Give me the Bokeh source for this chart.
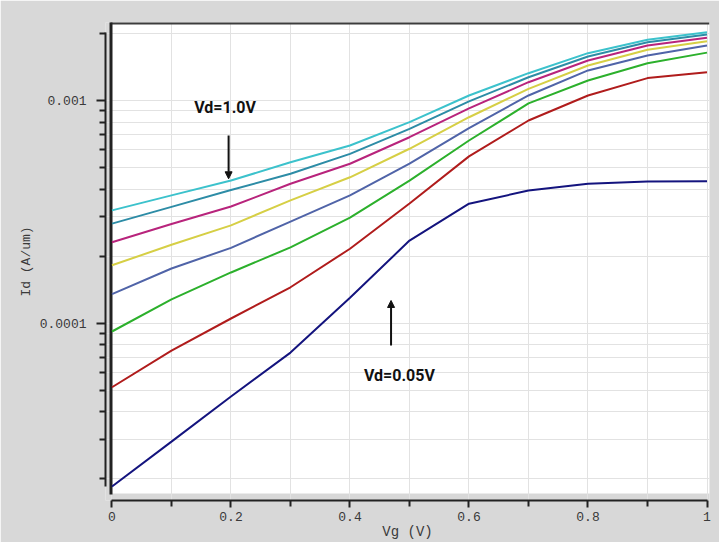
from bokeh.plotting import figure
from bokeh.models import (Range1d, FixedTicker, CustomJSTickFormatter, BoxAnnotation,
                          Label, Arrow, NormalHead, Title)
from bokeh.embed import file_html
from bokeh.resources import INLINE

# ---------------- data ----------------
vg = [0.0, 0.1, 0.2, 0.3, 0.4, 0.5, 0.6, 0.7, 0.8, 0.9, 1.0]

id_navy = [1.85e-5, 2.94e-5, 4.69e-5, 7.38e-5, 1.30e-4, 2.35e-4, 3.44e-4, 3.94e-4, 4.23e-4, 4.33e-4, 4.34e-4]
id_red = [5.16e-5, 7.54e-5, 1.05e-4, 1.45e-4, 2.16e-4, 3.45e-4, 5.61e-4, 8.13e-4, 1.053e-3, 1.26e-3, 1.34e-3]
id_green = [9.18e-5, 1.28e-4, 1.69e-4, 2.19e-4, 2.98e-4, 4.37e-4, 6.61e-4, 9.70e-4, 1.23e-3, 1.47e-3, 1.64e-3]
id_slate = [1.35e-4, 1.76e-4, 2.18e-4, 2.86e-4, 3.75e-4, 5.21e-4, 7.52e-4, 1.053e-3, 1.364e-3, 1.592e-3, 1.766e-3]
id_yellow = [1.82e-4, 2.25e-4, 2.75e-4, 3.56e-4, 4.52e-4, 6.07e-4, 8.41e-4, 1.128e-3, 1.436e-3, 1.689e-3, 1.846e-3]
id_magenta = [2.31e-4, 2.79e-4, 3.34e-4, 4.23e-4, 5.20e-4, 6.84e-4, 9.21e-4, 1.208e-3, 1.512e-3, 1.766e-3, 1.912e-3]
id_teal = [2.80e-4, 3.33e-4, 3.96e-4, 4.69e-4, 5.76e-4, 7.46e-4, 9.90e-4, 1.272e-3, 1.576e-3, 1.827e-3, 1.979e-3]
id_cyan = [3.21e-4, 3.75e-4, 4.37e-4, 5.28e-4, 6.28e-4, 7.99e-4, 1.053e-3, 1.326e-3, 1.631e-3, 1.873e-3, 2.026e-3]

series = [id_navy, id_red, id_green, id_slate, id_yellow, id_magenta, id_teal, id_cyan]
colors = ["#14147e", "#b01c1c", "#2cb02c", "#5064a8", "#d6cf45", "#b8247c", "#2d8ca6", "#3cc2cc"]

x_major_ticks = [0.0, 0.2, 0.4, 0.6, 0.8, 1.0]
x_tick_labels = ["0", "0.2", "0.4", "0.6", "0.8", "1"]
x_minor_ticks = [0.1, 0.3, 0.5, 0.7, 0.9]

y_major_ticks = [1e-4, 1e-3]
y_tick_labels = ["0.0001", "0.001"]
y_minor_ticks = [2e-5, 3e-5, 4e-5, 5e-5, 6e-5, 7e-5, 8e-5, 9e-5,
                 2e-4, 3e-4, 4e-4, 5e-4, 6e-4, 7e-4, 8e-4, 9e-4, 2e-3]

x_title = "Vg (V)"
y_title = "Id (A/um)"
note_high = "Vd=1.0V"
note_low = "Vd=0.05V"

# ---------------- figure ----------------
BG = "#d8d8d8"
p = figure(width=719, height=542,
           x_range=Range1d(-0.0109, 1.0042), y_range=Range1d(1.6e-5, 2.239e-3),
           y_axis_type="log", output_backend="svg", toolbar_location=None,
           min_border_left=105, min_border_right=10, min_border_top=22, min_border_bottom=42,
           background_fill_color=BG, border_fill_color=BG, outline_line_color=None)

all_vals = [v for s in series for v in s]

xa = p.xaxis[0]
ya = p.yaxis[0]
xt = FixedTicker(ticks=x_major_ticks, minor_ticks=x_minor_ticks)
yt = FixedTicker(ticks=y_major_ticks, minor_ticks=y_minor_ticks)
xa.ticker = xt
ya.ticker = yt
p.xgrid[0].ticker = xt
p.ygrid[0].ticker = yt
fmt_code = "const i = vals.indexOf(tick); return i >= 0 ? labs[i] : '';"
xa.formatter = CustomJSTickFormatter(args=dict(vals=x_major_ticks, labs=x_tick_labels), code=fmt_code)
ya.formatter = CustomJSTickFormatter(args=dict(vals=y_major_ticks, labs=y_tick_labels), code=fmt_code)
xa.bounds = (min(vg), max(vg))
ya.bounds = (min(all_vals), max(all_vals))

INK = "#3a3a3a"
for ax in (xa, ya):
    ax.axis_line_color = "#222222"
    ax.axis_line_width = 2
    ax.major_tick_line_color = "#222222"
    ax.minor_tick_line_color = "#222222"
    ax.major_tick_line_width = 2
    ax.minor_tick_line_width = 2
    ax.major_tick_in = 0
    ax.minor_tick_in = 0
    ax.major_label_text_font = "Liberation Mono"
    ax.major_label_text_font_size = "13px"
    ax.major_label_text_color = INK
    ax.axis_label_text_font = "Liberation Mono"
    ax.axis_label_text_font_size = "14px"
    ax.axis_label_text_font_style = "normal"
    ax.axis_label_text_color = INK

xa.major_tick_out = 7
xa.minor_tick_out = 6
xa.major_label_standoff = 4
xa.axis_label_standoff = 0
xa.axis_label = x_title

ya.major_tick_out = 9
ya.minor_tick_out = 6
ya.major_label_standoff = 10

GRID = "#e2e2e2"
for g in (p.xgrid[0], p.ygrid[0]):
    g.grid_line_color = GRID
    g.minor_grid_line_color = GRID
    g.grid_line_width = 1
    g.minor_grid_line_width = 1

# white plotting panel with dark top/left edges (inset look)
cu = dict(left_units="canvas", right_units="canvas", top_units="canvas", bottom_units="canvas")
p.add_layout(BoxAnnotation(left=110, right=709, top=22, bottom=493, fill_color="white", fill_alpha=1.0,
                           line_color=None, level="image", **cu))
p.add_layout(BoxAnnotation(left=110, right=709, top=21, bottom=24, fill_color="#3c3c3c", fill_alpha=1.0,
                           line_color=None, level="underlay", **cu))
p.add_layout(BoxAnnotation(left=109, right=112, top=21, bottom=494, fill_color="#222222", fill_alpha=1.0,
                           line_color=None, level="underlay", **cu))

# y-axis title as a side title (sits a little above the frame centre, as in the reference)
p.add_layout(Title(text=y_title, align="center", offset=24, standoff=5,
                   text_font="Liberation Mono", text_font_size="13px", text_font_style="normal",
                   text_color=INK), "left")

for ys, c in zip(series, colors):
    p.line(vg, ys, line_color=c, line_width=2)

# annotations
p.add_layout(Label(x=0.19, y=9.3e-4, text=note_high, text_font="Roboto", text_font_style="bold",
                   text_font_size="16px", text_align="center", text_baseline="middle", text_color="#111111"))
p.add_layout(Label(x=0.483, y=5.85e-5, text=note_low, text_font="Roboto", text_font_style="bold",
                   text_font_size="16px", text_align="center", text_baseline="middle", text_color="#111111"))
p.add_layout(Arrow(x_start=0.196, y_start=6.97e-4, x_end=0.196, y_end=4.45e-4, line_width=2,
                   line_color="#111111",
                   end=NormalHead(size=7, fill_color="#111111", line_color="#111111")))
p.add_layout(Arrow(x_start=0.469, y_start=7.94e-5, x_end=0.469, y_end=1.265e-4, line_width=2,
                   line_color="#111111",
                   end=NormalHead(size=7, fill_color="#111111", line_color="#111111")))

open("out.html", "w").write(file_html(p, INLINE))
